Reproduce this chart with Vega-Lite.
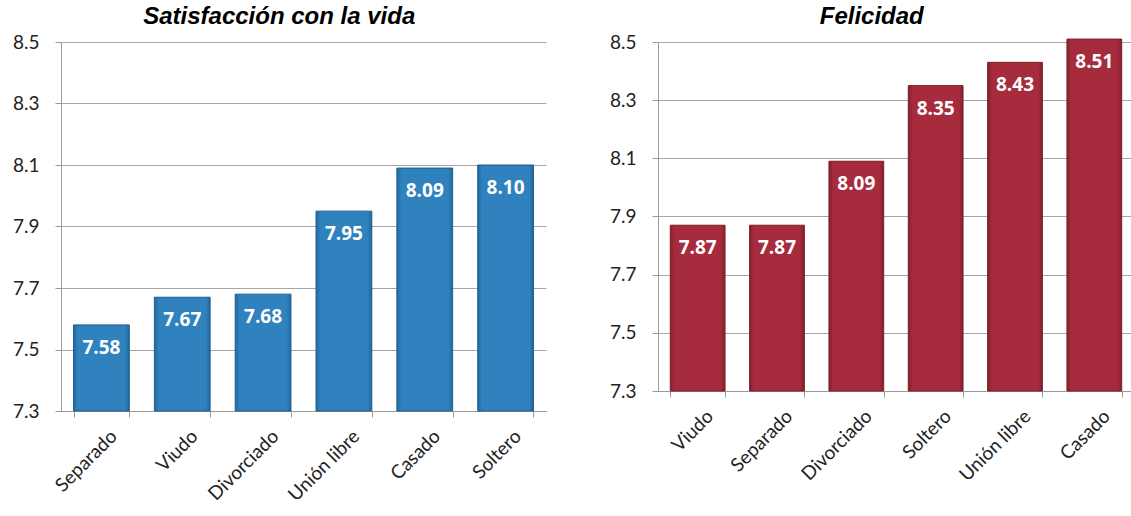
{
  "$schema": "https://vega.github.io/schema/vega-lite/v6.json",
  "background": "white",
  "padding": {"left": 12, "top": 5, "right": 0, "bottom": 0},
  "spacing": 63,
  "config": {
    "view": {"stroke": null},
    "axis": {
      "labelFont": "Lato", "labelFontSize": 19, "labelColor": "#222222",
      "domainColor": "#9a9a9a", "tickColor": "#9a9a9a", "gridColor": "#a6a6a6",
      "title": null
    },
    "title": {"font": "Liberation Sans", "fontSize": 24, "fontWeight": "bold", "fontStyle": "italic", "color": "#000000", "anchor": "middle", "frame": "bounds", "offset": 4}
  },
  "datasets": {
    "sat": [
      {"estado": "Separado", "valor": 7.58},
      {"estado": "Viudo", "valor": 7.67},
      {"estado": "Divorciado", "valor": 7.68},
      {"estado": "Unión libre", "valor": 7.95},
      {"estado": "Casado", "valor": 8.09},
      {"estado": "Soltero", "valor": 8.10}
    ],
    "fel": [
      {"estado": "Viudo", "valor": 7.87},
      {"estado": "Separado", "valor": 7.87},
      {"estado": "Divorciado", "valor": 8.09},
      {"estado": "Soltero", "valor": 8.35},
      {"estado": "Unión libre", "valor": 8.43},
      {"estado": "Casado", "valor": 8.51}
    ]
  },
  "hconcat": [
    {
      "title": "Satisfacción con la vida",
      "width": 485, "height": 369,
      "data": {"name": "sat"},
      "encoding": {
        "x": {"field": "estado", "type": "nominal", "sort": null,
              "scale": {"paddingInner": 0.31, "paddingOuter": 0.155},
              "axis": {"labelAngle": -45, "labelAlign": "right", "labelBaseline": "middle", "labelPadding": 16, "labelOffset": 12, "tickBand": "extent", "tickSize": 6, "grid": false}},
        "y": {"field": "valor", "type": "quantitative",
              "scale": {"domain": [7.3, 8.5], "nice": false, "zero": false},
              "axis": {"values": [7.3, 7.5, 7.7, 7.9, 8.1, 8.3, 8.5], "format": ".1f", "grid": true, "tickSize": 6, "labelPadding": 16}}
      },
      "layer": [
        {"mark": {"type": "bar", "clip": false, "stroke": "#1d5f8e", "strokeWidth": 1,
                  "fill": {"x1": 0, "y1": 0, "x2": 1, "y2": 0, "gradient": "linear", "stops": [
                    {"offset": 0, "color": "#22689a"}, {"offset": 0.08, "color": "#2f82bd"}, {"offset": 0.92, "color": "#2f82bd"}, {"offset": 1, "color": "#22689a"}]}},
         "encoding": {"y2": {"datum": 7.3}}},
        {"mark": {"type": "text", "color": "white", "font": "Open Sans", "fontWeight": "bold", "fontSize": 19, "baseline": "top", "dy": 14},
         "encoding": {"text": {"field": "valor", "type": "quantitative", "format": ".2f"}}}
      ]
    },
    {
      "title": "Felicidad",
      "width": 476, "height": 349,
      "data": {"name": "fel"},
      "encoding": {
        "x": {"field": "estado", "type": "nominal", "sort": null,
              "scale": {"paddingInner": 0.31, "paddingOuter": 0.155},
              "axis": {"labelAngle": -45, "labelAlign": "right", "labelBaseline": "middle", "labelPadding": 16, "labelOffset": 12, "tickBand": "extent", "tickSize": 6, "grid": false}},
        "y": {"field": "valor", "type": "quantitative",
              "scale": {"domain": [7.3, 8.5], "nice": false, "zero": false},
              "axis": {"values": [7.3, 7.5, 7.7, 7.9, 8.1, 8.3, 8.5], "format": ".1f", "grid": true, "tickSize": 6, "labelPadding": 16}}
      },
      "layer": [
        {"mark": {"type": "bar", "clip": false, "stroke": "#7a1c29", "strokeWidth": 1,
                  "fill": {"x1": 0, "y1": 0, "x2": 1, "y2": 0, "gradient": "linear", "stops": [
                    {"offset": 0, "color": "#861f2e"}, {"offset": 0.08, "color": "#a62b3d"}, {"offset": 0.92, "color": "#a62b3d"}, {"offset": 1, "color": "#861f2e"}]}},
         "encoding": {"y2": {"datum": 7.3}}},
        {"mark": {"type": "text", "color": "white", "font": "Open Sans", "fontWeight": "bold", "fontSize": 19, "baseline": "top", "dy": 14},
         "encoding": {"text": {"field": "valor", "type": "quantitative", "format": ".2f"}}}
      ]
    }
  ]
}
